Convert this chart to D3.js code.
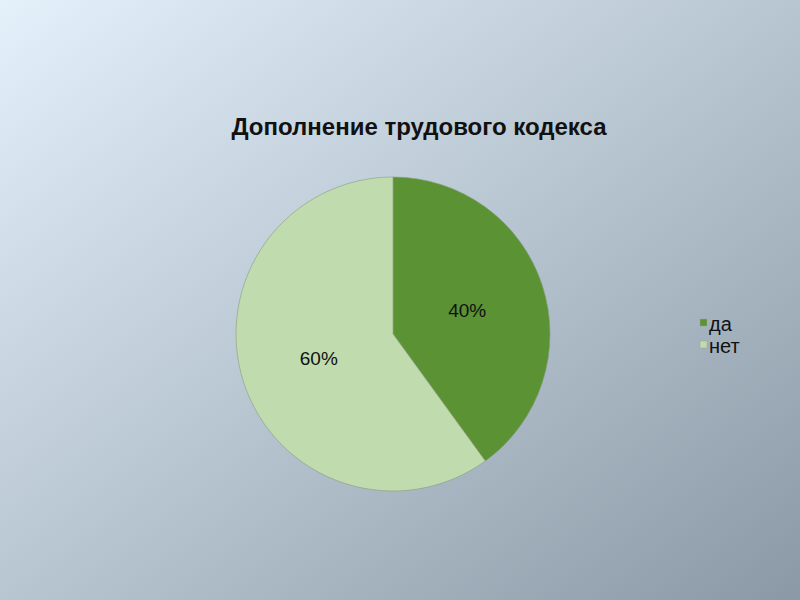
<!DOCTYPE html>
<html>
<head>
<meta charset="utf-8">
<script src="https://cdn.jsdelivr.net/npm/d3@7.9.0/dist/d3.min.js"></script>
<style>
  html, body { margin: 0; padding: 0; }
  svg { display: block; font-family: "Liberation Sans", Arial, sans-serif; }
</style>
</head>
<body>
<svg id="chart" width="800" height="600"></svg>
<script>
// ---- data ----
const categories = ["да", "нет"];
const shares = [40, 60];
const sliceColors = ["#5a9234", "#c0dcae"];
const title = "Дополнение трудового кодекса";

const svg = d3.select("#chart");

// background gradient (light top-left to grey-blue bottom-right)
const defs = svg.append("defs");
const grad = defs.append("linearGradient")
  .attr("id", "bg").attr("x1", "0").attr("y1", "0").attr("x2", "1").attr("y2", "1");
grad.append("stop").attr("offset", "0%").attr("stop-color", "#e4f0fa");
grad.append("stop").attr("offset", "45%").attr("stop-color", "#bccad6");
grad.append("stop").attr("offset", "100%").attr("stop-color", "#8a99a5");
svg.append("rect").attr("width", 800).attr("height", 600).attr("fill", "url(#bg)");

// title
svg.append("text")
  .attr("x", 419).attr("y", 135)
  .attr("text-anchor", "middle")
  .attr("font-size", 24).attr("font-weight", "bold")
  .attr("fill", "#111")
  .text(title);

// ---- pie ----
const cx = 393, cy = 334, R = 157;
const data = categories.map((c, i) => ({ label: c, value: shares[i] }));
const pie = d3.pie().value(d => d.value).sort(null);
const arc = d3.arc().innerRadius(0).outerRadius(R);
const labelArc = d3.arc().innerRadius(78).outerRadius(78);
const colors = d3.scaleOrdinal().domain(categories).range(sliceColors);

const g = svg.append("g").attr("transform", `translate(${cx},${cy})`);
const arcs = pie(data);

g.selectAll("path")
  .data(arcs)
  .join("path")
  .attr("d", arc)
  .attr("fill", d => colors(d.data.label))
  .attr("stroke", "#8a9a80")
  .attr("stroke-width", 0.6);

g.selectAll("text")
  .data(arcs)
  .join("text")
  .attr("transform", d => `translate(${labelArc.centroid(d)})`)
  .attr("text-anchor", "middle")
  .attr("dy", "0.35em")
  .attr("font-size", 19)
  .attr("fill", "#111")
  .text(d => d.data.value + "%");

// ---- legend ----
const legend = svg.append("g").attr("transform", "translate(700,331)");
const item = legend.selectAll("g")
  .data(categories)
  .join("g")
  .attr("transform", (d, i) => `translate(0,${i * 22})`);

item.append("rect")
  .attr("y", -12)
  .attr("width", 7).attr("height", 7)
  .attr("fill", d => colors(d))
  .attr("stroke", "#9aa890").attr("stroke-width", 0.5);

item.append("text")
  .attr("x", 9).attr("y", 0)
  .attr("font-size", 20)
  .attr("fill", "#111")
  .text(d => d);
</script>
</body>
</html>
